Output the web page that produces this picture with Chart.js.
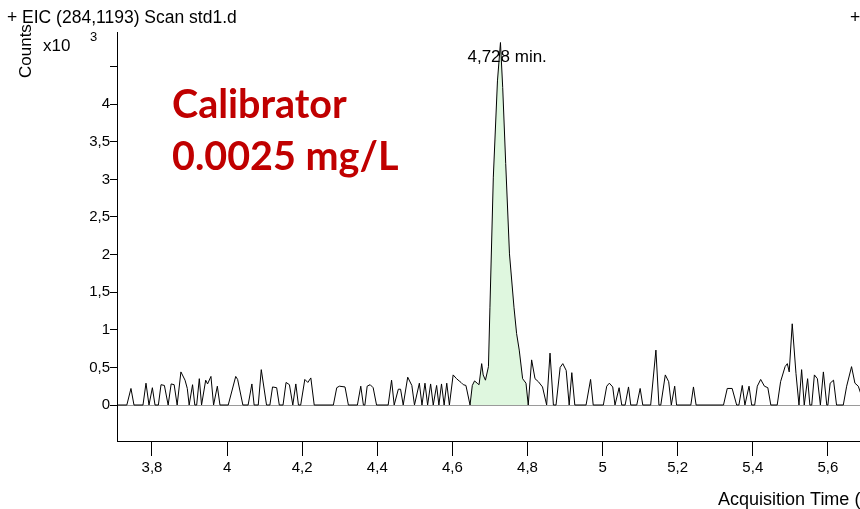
<!DOCTYPE html>
<html>
<head>
<meta charset="utf-8">
<script src="https://cdn.jsdelivr.net/npm/chart.js@4.4.1/dist/chart.umd.min.js"></script>
<style>
html,body{margin:0;padding:0;background:#fff;}
#wrap{width:860px;height:509px;}
</style>
</head>
<body>
<div id="wrap"><canvas id="c" width="860" height="509"></canvas></div>
<script>
// Acquisition time (min)
const times = [
3.707,3.733,3.744,3.752,3.776,3.784,3.792,3.801,3.808,3.817,3.824,3.833,3.843,3.851,3.859,3.867,3.877,3.888,3.894,3.899,
3.908,3.914,3.919,3.926,3.932,3.943,3.948,3.957,3.964,3.974,3.981,4.003,4.023,4.028,4.042,4.056,4.066,4.072,4.083,4.091,
4.105,4.114,4.121,4.132,4.139,4.149,4.157,4.166,4.175,4.183,4.190,4.196,4.207,4.215,4.223,4.232,4.283,4.292,4.299,4.314,
4.323,4.347,4.356,4.363,4.367,4.373,4.381,4.389,4.398,4.429,4.438,4.445,4.456,4.462,4.469,4.481,4.492,4.499,4.512,4.519,
4.527,4.534,4.542,4.549,4.558,4.564,4.571,4.578,4.585,4.592,4.602,4.611,4.618,4.623,4.629,4.636,4.647,4.653,4.659,4.666,
4.671,4.678,4.682,4.688,4.696,4.700,4.709,4.720,4.728,4.734,4.742,4.752,4.764,4.771,4.778,4.787,4.796,4.802,4.811,4.820,
4.829,4.840,4.851,4.860,4.869,4.876,4.887,4.894,4.903,4.911,4.918,4.926,4.956,4.968,4.975,5.002,5.011,5.018,5.027,5.033,
5.044,5.051,5.060,5.069,5.075,5.091,5.100,5.107,5.128,5.142,5.150,5.155,5.167,5.176,5.183,5.192,5.197,5.235,5.242,5.249,
5.322,5.332,5.345,5.357,5.363,5.372,5.379,5.390,5.397,5.405,5.412,5.421,5.431,5.440,5.448,5.465,5.474,5.486,5.492,5.497,
5.505,5.515,5.523,5.530,5.537,5.546,5.552,5.557,5.564,5.572,5.580,5.588,5.597,5.600,5.606,5.615,5.623,5.641,5.650,5.663,
5.672,5.681,5.691
];
// Counts (x10^3)
const counts = [
0,0,0.22,0,0,0.29,0,0.23,0,0,0.27,0.26,0,0.28,0.27,0,0.44,0.33,0.22,0,
0.27,0,0,0.35,0,0.33,0.28,0.38,0,0.25,0,0,0.38,0.34,0,0,0.28,0,0,0.47,
0,0,0.24,0.23,0,0,0.30,0.27,0,0.28,0,0,0.34,0.30,0.36,0,0,0.23,0.25,0.24,
0,0,0.25,0,0,0.25,0.27,0.23,0,0,0.33,0,0.21,0.21,0,0.37,0.26,0,0.29,0,
0.29,0,0.28,0,0.26,0,0.28,0,0.29,0,0.40,0.35,0.32,0.30,0.27,0.26,0,0.26,0.32,0.29,
0.27,0.55,0.40,0.33,0.51,1.30,3.03,4.31,4.82,4.22,3.21,2.01,1.30,0.95,0.73,0.35,0.29,0,0.60,0.35,
0.31,0.24,0,0.69,0,0,0.50,0.55,0.46,0,0.43,0,0,0.34,0,0,0.25,0.29,0.24,0,
0.23,0,0,0.24,0,0,0.22,0,0,0.73,0,0,0.40,0.31,0,0.25,0,0,0.24,0,
0,0.22,0.22,0,0,0.26,0,0.25,0,0,0.25,0.34,0.25,0.23,0,0,0.31,0.51,0.55,0.44,
1.08,0.42,0,0.47,0,0.35,0,0,0.40,0.35,0,0.44,0,0,0.29,0.33,0,0,0.25,0.51,
0.29,0.25,0.10
];
const peakStart = 4.647;
const peakEnd = 4.802;
const peakLabel = '4,728 min.';
const peakTime = 4.728;

const xTicks = [3.8,4,4.2,4.4,4.6,4.8,5,5.2,5.4,5.6];
const xTickLabels = ['3,8','4','4,2','4,4','4,6','4,8','5','5,2','5,4','5,6'];
const yTicks = [0,0.5,1,1.5,2,2.5,3,3.5,4,4.5];
const yTickLabels = ['0','0,5','1','1,5','2','2,5','3','3,5','4',''];

const FONT = "'Liberation Sans', Arial, sans-serif";

const trace = times.map((t,i)=>({x:t,y:counts[i]}));
const peakArea = trace.filter(p=>p.x>=peakStart && p.x<=peakEnd);

const textPlugin = {
  id:'texts',
  afterDraw(chart){
    const ctx = chart.ctx;
    const xs = chart.scales.x;
    ctx.save();
    ctx.fillStyle = '#000';
    ctx.textAlign = 'left';
    ctx.textBaseline = 'alphabetic';
    ctx.font = '17.5px ' + FONT;
    ctx.fillText('+ EIC (284,1193) Scan std1.d', 7, 23);
    ctx.fillText('+', 850, 23);
    ctx.font = '17px ' + FONT;
    ctx.fillText('x10', 43, 51);
    ctx.fillText(peakLabel, xs.getPixelForValue(peakTime) - 33, 62);
    ctx.font = '18px ' + FONT;
    ctx.fillText('Acquisition Time (min)', 718, 505);
    ctx.font = '13px ' + FONT;
    ctx.fillText('3', 90, 41);
    ctx.save();
    ctx.font = '17px ' + FONT;
    ctx.translate(31, 78);
    ctx.rotate(-Math.PI/2);
    ctx.fillText('Counts', 0, 0);
    ctx.restore();
    ctx.fillStyle = '#C00000';
    ctx.font = "bold 39.5px Lato, 'Open Sans', sans-serif";
    ctx.fillText('Calibrator', 172, 118);
    ctx.fillText('0.0025 mg/L', 172, 170);
    ctx.restore();
  }
};

new Chart(document.getElementById('c'), {
  type:'line',
  data:{
    datasets:[
      {data:trace, borderColor:'#000', borderWidth:1, pointRadius:0, tension:0, fill:false},
      {data:peakArea, borderColor:'rgba(0,0,0,0)', borderWidth:0, pointRadius:0, tension:0, fill:'origin', backgroundColor:'#dff7df'}
    ]
  },
  options:{
    responsive:false,
    animation:false,
    devicePixelRatio:1,
    parsing:false,
    layout:{padding:{top:32,left:0,right:0,bottom:0}},
    plugins:{legend:{display:false}, tooltip:{enabled:false}, title:{display:false}},
    scales:{
      x:{
        type:'linear', min:3.7068, max:5.6855,
        afterFit(s){ s.height = 68; },
        afterBuildTicks(s){ s.ticks = xTicks.map(v=>({value:v})); },
        ticks:{autoSkip:false, maxRotation:0, padding:3, color:'#000', font:{family:FONT, size:15},
          callback:(v,i)=>xTickLabels[i]},
        grid:{drawOnChartArea:false, drawTicks:true, tickLength:15, color:'#000', tickColor:'#000'},
        border:{display:true, color:'#000', width:1}
      },
      y:{
        type:'linear', min:-0.4787, max:4.960,
        afterFit(s){ s.width = 117; },
        afterBuildTicks(s){ s.ticks = yTicks.map(v=>({value:v})); },
        ticks:{autoSkip:false, padding:0, color:'#000', font:{family:FONT, size:15},
          callback:(v,i)=>yTickLabels[i]},
        grid:{drawOnChartArea:true, drawTicks:true, tickLength:7,
          color:(c)=> (c.tick && c.tick.value===0) ? '#9a9a9a' : 'rgba(0,0,0,0)', tickColor:'#000'},
        border:{display:true, color:'#000', width:1}
      }
    }
  },
  plugins:[textPlugin]
});
</script>
</body>
</html>
